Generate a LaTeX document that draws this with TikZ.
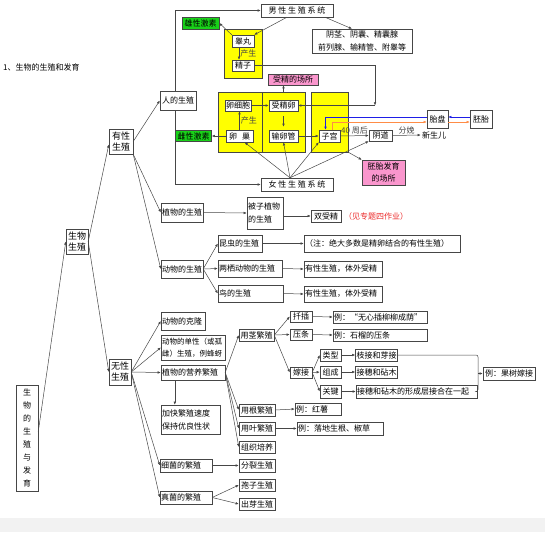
\documentclass[tikz,border=0pt]{standalone}
\usepackage{fontspec}
\setmainfont{Noto Sans CJK SC}
\usepackage{tikz}
\usetikzlibrary{arrows.meta}
\definecolor{MapGreen}{RGB}{25,210,25}
\definecolor{MapYellow}{RGB}{255,255,0}
\definecolor{MapPink}{RGB}{250,150,205}
\definecolor{MapBlue}{RGB}{30,30,230}
\definecolor{MapOrange}{RGB}{255,140,70}
\definecolor{MapRed}{RGB}{235,40,40}
\definecolor{MapLine}{RGB}{70,70,70}
\definecolor{MapBand}{RGB}{242,242,242}

\begin{document}
\begin{tikzpicture}[x=1pt,y=-1pt,font=\fontsize{8}{9.6}\selectfont,>={Latex[length=3.2pt,width=2.6pt]},
bx/.style n args={2}{draw=MapLine,fill=white,inner sep=1pt,minimum width=#1pt,minimum height=#2pt,align=center},
lbx/.style n args={2}{draw=MapLine,fill=white,inner sep=1pt,text width=#1pt,minimum height=#2pt,align=left},
hl/.style n args={3}{bx={#2}{#3},fill=#1},
ar/.style={MapLine,line width=0.5pt,->}]
\useasboundingbox (0,0) rectangle (545,532);
\fill[MapBand] (0,518) rectangle (545,532);
\node[anchor=west,inner sep=0pt] (title) at (3,67) {1、生物的生殖和发育};
% left trunk
\node[bx={22}{106},font=\fontsize{8}{13}\selectfont] (root) at (27,438) {生\\物\\的\\生\\殖\\与\\发\\育};
\node[bx={22}{25},font=\fontsize{9}{11}\selectfont] (swsz) at (77,241.5) {生物\\生殖};
\node[bx={24}{25},font=\fontsize{9}{11}\selectfont] (yxsz) at (121,141.5) {有性\\生殖};
\node[bx={22}{26},font=\fontsize{9}{11}\selectfont] (wxsz) at (120,372) {无性\\生殖};
% human
\node[hl={MapYellow}{38}{49}] (ylwm) at (243,53.5) {};
\node[hl={MapYellow}{44}{60}] (ylwa) at (240,122) {};
\node[hl={MapYellow}{43}{60}] (ylwb) at (283.5,122) {};
\node[hl={MapYellow}{37}{60}] (ylwc) at (329.5,122) {};
\node[bx={36}{19}] (rdsz) at (178,100.5) {人的生殖};
\node[bx={72}{13}] (nan) at (297,10.5) {男 性 生 殖 系 统};
\node[bx={72}{13}] (nv) at (297,184.5) {女 性 生 殖 系 统};
\node[hl={MapGreen}{37}{12}] (xjs) at (200.5,23) {雄性激素};
\node[hl={MapGreen}{36}{11}] (cjs) at (193.5,136) {雌性激素};
\node[bx={22}{12}] (gw) at (243,41) {睾丸};
\node[bx={22}{11}] (jz) at (243,65.5) {精子};
\node[bx={100}{24},font=\fontsize{8}{13}\selectfont] (fsq) at (362,41) {阴茎、阴囊、精囊腺\\前列腺、输精管、附睾等};
\node[hl={MapPink}{50}{11}] (scs) at (293,79.5) {受精的场所};
\node[bx={24}{11}] (lxb) at (238,105.5) {卵细胞};
\node[bx={27}{12}] (lc) at (239.5,136) {卵\hspace{5pt}巢};
\node[bx={29}{11}] (sjl) at (283.5,105.5) {受精卵};
\node[bx={29}{12}] (slg) at (283.5,136) {输卵管};
\node[bx={21}{12}] (zg) at (329.5,136) {子宫};
\node[bx={23}{11}] (yd) at (380.5,135.5) {阴道};
\node[inner sep=1pt] (xse) at (434,135) {新生儿};
\node[bx={21}{18}] (tp) at (437.5,119) {胎盘};
\node[bx={22}{18}] (pt) at (481,119) {胚胎};
\node[hl={MapPink}{43}{25},font=\fontsize{8}{12}\selectfont] (pfc) at (383.5,172.5) {胚胎发育\\的场所};
% plants, animals
\node[lbx={40}{19}] (zwsz) at (182,212.5) {植物的生殖};
\node[lbx={40}{18}] (dwsz) at (182,269) {动物的生殖};
\node[lbx={34}{32},font=\fontsize{8}{13}\selectfont] (bzzw) at (265,213) {被子植物\\的生殖};
\node[bx={30}{12}] (ssj) at (326,216) {双受精};
\node[anchor=west,text=MapRed,inner sep=0pt] (zt) at (344,216) {（见专题四作业）};
\node[lbx={42}{17}] (kc) at (240,243.5) {昆虫的生殖};
\node[lbx={62}{17}] (lq) at (250,268.5) {两栖动物的生殖};
\node[lbx={63}{17}] (nd) at (250.5,293.5) {鸟的生殖};
\node[lbx={154}{17}] (zs) at (382,243.5) {（注：绝大多数是精卵结合的有性生殖）};
\node[lbx={76}{16}] (tw1) at (343,269) {有性生殖，体外受精};
\node[lbx={76}{16}] (tw2) at (343,294) {有性生殖，体外受精};
% asexual
\node[lbx={42}{18}] (kl) at (183,321) {动物的克隆};
\node[lbx={62}{25},font=\fontsize{7.5}{12}\selectfont] (dx) at (193,347.5) {动物的单性（或孤\\雌）生殖，例蜂蚜};
\node[lbx={62}{15}] (yy) at (193,372.5) {植物的营养繁殖};
\node[lbx={57}{29},font=\fontsize{8}{13}\selectfont] (jk) at (190.5,419.5) {加快繁殖速度\\保持优良性状};
\node[lbx={50}{13}] (xj) at (186,465.5) {细菌的繁殖};
\node[lbx={50}{13}] (zj) at (186,497.5) {真菌的繁殖};
\node[bx={36}{13}] (fl) at (257,465.5) {分裂生殖};
\node[bx={36}{12}] (bz) at (257,485) {孢子生殖};
\node[bx={36}{12}] (cy) at (257,504) {出芽生殖};
\node[bx={35}{12}] (yjf) at (256.5,335) {用茎繁殖};
\node[bx={36}{12}] (ygf) at (257,410) {用根繁殖};
\node[bx={36}{13}] (yyf) at (257,428.5) {用叶繁殖};
\node[bx={36}{12}] (zzp) at (257,447) {组织培养};
\node[bx={22}{11}] (qc) at (301,316.5) {扦插};
\node[bx={22}{11}] (yt) at (301,334.5) {压条};
\node[bx={22}{11}] (jj) at (301,372.5) {嫁接};
\node[lbx={92}{12}] (lqc) at (380,317) {例：“无心插柳柳成荫”};
\node[lbx={92}{12}] (lyt) at (380,335) {例：石榴的压条};
\node[bx={21}{12}] (lx) at (330.5,355) {类型};
\node[bx={21}{12}] (zc) at (330.5,372) {组成};
\node[bx={21}{13}] (gj) at (330.5,391.5) {关键};
\node[bx={41}{12}] (zjy) at (376.5,355) {枝接和芽接};
\node[bx={41}{12}] (jsz) at (376.5,372) {接穗和砧木};
\node[lbx={119}{13}] (jsl) at (416.5,391.5) {接穗和砧木的形成层接合在一起};
\node[bx={52}{13}] (gsj) at (509,373.5) {例：果树嫁接};
\node[lbx={44}{12}] (hs) at (318,409) {例：红薯};
\node[lbx={84}{13}] (ldg) at (340,428.5) {例：落地生根、椒草};
% connectors
\draw[ar] ([yshift=6pt]root.east) -- (swsz.west);
\draw[ar] (swsz.east) -- ([yshift=-3pt]yxsz.west);
\draw[ar] (swsz.east) -- (wxsz.west);
\draw[ar] (yxsz.east) -- (rdsz.west);
\foreach \t in {zwsz,dwsz} \draw[ar] (yxsz.south east) -- (\t.west);
\draw[ar] (zwsz.east) -- (bzzw.west);
\draw[ar] ([yshift=-3pt]bzzw.east) -- (ssj.west);
\foreach \t in {kc,lq,nd} \draw[ar] (dwsz.east) -- (\t.west);
\foreach \a/\b in {kc/zs,lq/tw1,nd/tw2} \draw[ar] (\a.east) -- (\b.west);
\draw[ar] ([xshift=-3pt]rdsz.north) |- (nan.west);
\draw[ar] ([xshift=-3pt]rdsz.south) |- (nv.west);
\draw[ar] ([xshift=-10pt]nan.south) -- (gw.north east);
\draw[ar] ([xshift=28pt]nan.south) -- ([xshift=-10pt]fsq.north);
\draw[ar] (gw.north west) -- (xjs.east);
\draw[ar] ([xshift=-4pt]gw.south) -- ([xshift=-4pt]jz.north) node[midway,right=1pt,inner sep=0pt] {产生};
\coordinate (jzc) at (375,105.5);
\draw[ar] (jz.east) -| (jzc);
\draw[ar] (jzc) -- (sjl.east);
\draw[ar] (lc.north) -- (lc.north |- lxb.south) node[midway,right=1pt,inner sep=0pt] {产生};
\draw[ar] (lxb.east) -- (sjl.west);
\draw[ar,shorten <=5pt,shorten >=3pt] (sjl.south) -- (slg.north);
\draw[ar] (slg.east) -- (zg.west);
\draw[ar] (lc.west) -- (cjs.east);
\draw[ar] (ylwb.north) -- (ylwb.north |- scs.south);
\draw[ar] (zg.east) -- (yd.west) node[midway,above=0pt,inner sep=1pt] {40 周后};
\draw[ar] (yd.east) -- (xse.west) node[midway,above=0pt,inner sep=1pt] {分娩};
\draw[ar] (ylwc.south east) -- (pfc.north west);
\coordinate (nvt) at ([xshift=-7pt]nv.north);
\draw[ar] (nvt) -- ([xshift=5pt]lc.south);
\draw[ar] (nvt) -- (slg.south);
\draw[ar] (nvt) -- (zg.south west);
\draw[ar] (nvt) -- (yd.south west);
\draw[ar,MapBlue] ([yshift=2pt]pt.west) -- ([yshift=2pt]tp.east);
\draw[ar,MapBlue] ([yshift=2pt]tp.west) -| ([xshift=-4pt]zg.north);
\draw[ar,MapOrange] ([xshift=3pt]zg.north) |- ([yshift=-3pt]tp.west);
\draw[ar,MapOrange] ([yshift=-3pt]tp.east) -- ([yshift=-3pt]pt.west);
\foreach \t in {kl,dx,yy,xj,zj} \draw[ar] (wxsz.east) -- (\t.west);
\draw[ar] ([xshift=14pt]yy.south west) -- ([xshift=14pt]jk.north west);
\foreach \t in {yjf,ygf,yyf,zzp} \draw[ar] (yy.east) -- (\t.west);
\foreach \t in {qc,yt,jj} \draw[ar] (yjf.east) -- (\t.west);
\foreach \t in {lx,zc,gj} \draw[ar] (jj.east) -- (\t.west);
\foreach \a/\b in {qc/lqc,yt/lyt,lx/zjy,zc/jsz,gj/jsl,ygf/hs,yyf/ldg,xj/fl} \draw[ar] (\a.east) -- (\b.west);
\foreach \t in {bz,cy} \draw[ar] (zj.east) -- (\t.west);
\coordinate (brk) at (478,373.5);
\draw[MapLine,line width=0.5pt,rounded corners=2pt] (zjy.east) -| (brk);
\draw[MapLine,line width=0.5pt,rounded corners=2pt] (jsl.east) -| (brk);
\draw[ar] (brk) -- (gsj.west);
\end{tikzpicture}
\end{document}
